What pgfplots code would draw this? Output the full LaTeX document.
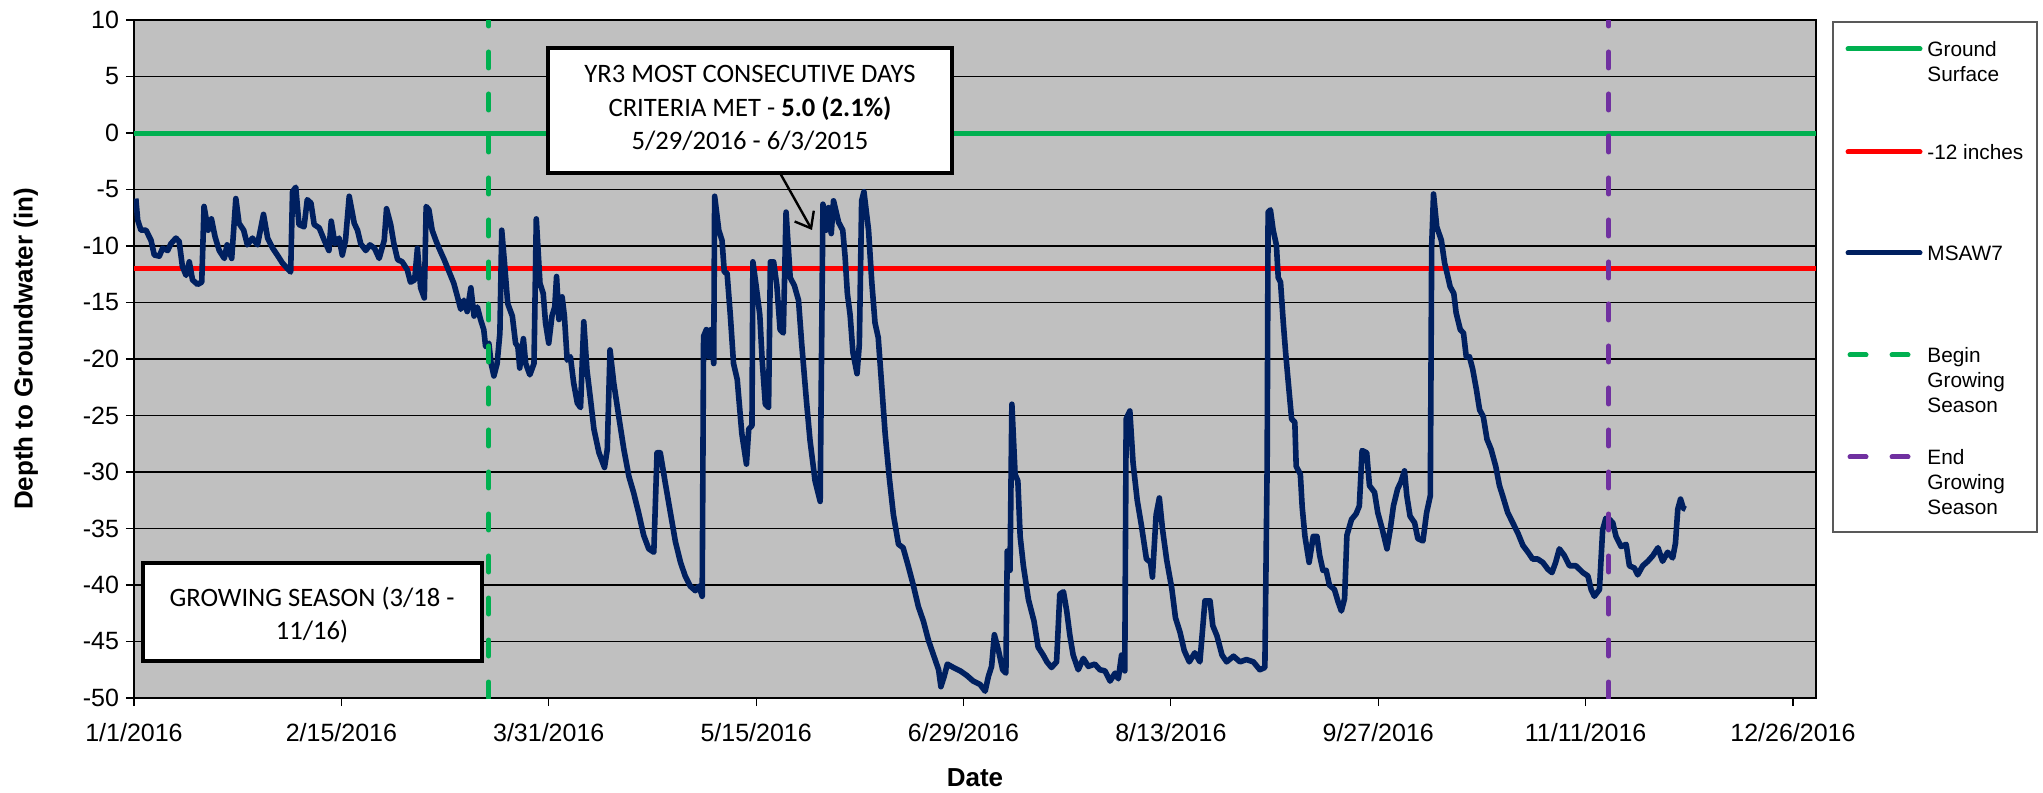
\documentclass[border=0pt]{standalone}
\usepackage{fontspec}
\setmainfont{Liberation Sans}
\newfontfamily\calibri{Carlito}
\usepackage{pgfplots}
\pgfplotsset{compat=1.18}
\usetikzlibrary{arrows.meta}
\definecolor{plotgray}{RGB}{192,192,192}
\definecolor{gsgreen}{RGB}{0,176,80}
\definecolor{wellnavy}{RGB}{0,32,96}
\definecolor{gspurple}{RGB}{112,48,160}
\definecolor{redline}{RGB}{255,0,0}
\tikzset{gsdash/.style={line width=2.5pt, line cap=round, dash pattern=on 8pt off 13pt}}

\begin{document}
\begin{tikzpicture}
\useasboundingbox (-67pt,-47pt) rectangle (954.5pt,349pt);
\begin{axis}[
  at={(0,0)}, anchor=south west,
  scale only axis, width=841pt, height=339pt,
  xmin=0, xmax=365, ymin=-50, ymax=10,
  axis background/.style={fill=plotgray},
  xtick={0,45,...,360},
  xticklabels={1/1/2016,2/15/2016,3/31/2016,5/15/2016,6/29/2016,8/13/2016,9/27/2016,11/11/2016,12/26/2016},
  ytick={-50,-45,...,10},
  yticklabels={-50,-45,-40,-35,-30,-25,-20,-15,-10,-5,0,5,10},
  ymajorgrids, grid style={black, line width=0.6pt},
  tick align=outside, major tick length=4pt, tick pos=left,
  tick style={black, line width=0.6pt},
  axis line style={black, line width=1pt},
  ticklabel style={font=\fontsize{12.5}{14}\selectfont},
  xticklabel style={yshift=-5pt},
  xlabel={Date}, ylabel={Depth to Groundwater (in)},
  label style={font=\fontsize{13}{15}\selectfont\bfseries},
  xlabel style={at={(axis description cs:0.5,-0.118)}, anchor=center},
  ylabel style={at={(axis description cs:-0.0642,0.515)}, anchor=center},
]
% ground surface and -12 inch criterion
\addplot[gsgreen, line width=2.5pt] coordinates {(0,0) (365,0)};
\addplot[redline, line width=2.5pt] coordinates {(0,-12) (365,-12)};
% MSAW7 well (day of year 2016, depth in inches)
\addplot[wellnavy, line width=2.8pt, line join=round] coordinates {
(0.4,-5.8) (0.8,-7.7) (1.5,-8.6) (2.6,-8.6) (3.7,-9.5) (4.4,-10.8) (5.5,-10.9) (6.2,-10.2)
(7.3,-10.4) (8,-9.8) (9.1,-9.3) (9.8,-9.6) (10.5,-11.8) (11.3,-12.6) (12,-11.4) (12.7,-13)
(13.8,-13.4) (14.7,-13.2) (15.2,-6.5) (16.1,-8.6) (16.8,-7.6) (17.6,-9.2) (18.5,-10.4) (19.6,-11.1)
(20.2,-9.9) (21.2,-11.1) (22.1,-5.8) (22.8,-8) (23.8,-8.6) (24.6,-9.9) (25.7,-9.3) (26.8,-9.9)
(28.1,-7.2) (29,-9.3) (30.1,-10.2) (31.1,-10.8) (32.2,-11.5) (33.3,-12) (34,-12.3) (34.4,-5.2)
(35.1,-4.8) (35.8,-8.1) (36.9,-8.3) (37.6,-5.9) (38.4,-6.2) (39.1,-8.1) (40.2,-8.4) (41.3,-9.5)
(42.3,-10.4) (42.8,-7.8) (43.6,-9.8) (44.5,-9.3) (45.2,-10.8) (45.9,-9.5) (46.7,-5.6) (47.8,-8)
(48.5,-8.6) (49.2,-9.8) (50.3,-10.4) (51.2,-9.9) (52.2,-10.2) (53.2,-11.1) (54.3,-9.5) (54.8,-6.7)
(55.7,-8.1) (56.4,-9.8) (57.2,-11.2) (58.2,-11.4) (59.3,-12.1) (60,-13.2) (60.9,-13) (61.5,-10.2)
(62.2,-13.7) (63,-14.6) (63.4,-6.5) (64,-6.8) (64.7,-8.6) (65.5,-9.5) (66.2,-10.2) (67.3,-11.2)
(68.4,-12.3) (69.4,-13.3) (70.2,-14.5) (70.9,-15.6) (71.6,-14.8) (72.3,-15.8) (73.1,-13.7) (73.8,-16.2)
(74.5,-15.4) (75.2,-16.5) (75.9,-17.4) (76.3,-18.9) (77,-18.6) (77.5,-20.4) (78.1,-21.5) (78.8,-20.4)
(79.4,-17.7) (79.8,-8.6) (80.4,-11.5) (81.1,-15.1) (82.1,-16.2) (82.8,-18.6) (83.3,-18.9) (83.7,-20.8)
(84.5,-18.2) (85,-20.4) (85.9,-21.4) (86.8,-20.4) (87.3,-7.6) (88.1,-13.3) (88.8,-14.2) (89.3,-16.8)
(90,-18.6) (90.7,-16.2) (91.3,-15.4) (91.7,-12.7) (92.2,-16.5) (92.9,-14.5) (93.4,-16.2) (94,-20.1)
(94.7,-19.8) (95.4,-22.1) (96.2,-23.9) (96.9,-24.3) (97.6,-16.7) (98.3,-21) (99.1,-23.7) (99.8,-26.2)
(100.9,-28.3) (102.1,-29.6) (102.7,-28) (103.3,-19.2) (104.1,-22.1) (105.2,-25.1) (106.3,-28) (107.4,-30.4)
(108.4,-31.8) (109.5,-33.6) (110.6,-35.6) (111.7,-36.8) (112.8,-37.1) (113.5,-28.3) (114.2,-28.3) (115.3,-31)
(116.4,-33.6) (117.5,-36.2) (118.6,-38) (119.6,-39.2) (120.7,-40.1) (121.8,-40.5) (122.6,-40.1) (123.3,-41)
(123.6,-18) (124.2,-17.4) (124.8,-19.8) (125.2,-17.4) (125.8,-20.4) (126,-5.6) (126.9,-8.6) (127.6,-9.5)
(128.1,-12.3) (128.7,-12.4) (129.4,-16.1) (130.1,-20.4) (130.9,-21.8) (131.9,-26.6) (132.9,-29.3) (133.4,-26.2)
(134.1,-25.9) (134.3,-11.4) (135,-13.5) (135.8,-16.1) (136.3,-20) (137,-24) (137.7,-24.3) (138.1,-11.4)
(138.8,-11.4) (139.5,-13.5) (140.2,-17.4) (140.9,-17.7) (141.5,-7) (142.4,-12.8) (143.3,-13.5) (144.2,-14.8)
(144.9,-18.7) (145.9,-23.6) (146.7,-27.2) (147.8,-30.8) (148.9,-32.6) (149.5,-6.3) (150.2,-8.6) (150.7,-6.6)
(151.3,-8.9) (151.8,-6) (152.9,-7.9) (153.8,-8.6) (154.3,-10.9) (154.8,-14.2) (155.4,-16.1) (156,-19.4)
(156.9,-21.3) (157.4,-18.7) (157.9,-6) (158.4,-5.2) (159.4,-8.6) (160.1,-13.2) (160.8,-16.8) (161.5,-18.1)
(162.3,-22.6) (163,-26.6) (163.9,-30.5) (164.8,-33.8) (165.9,-36.4) (166.9,-36.7) (168,-38.3) (169.1,-40)
(170.2,-41.9) (171.3,-43.2) (172.4,-44.9) (173.5,-46.2) (174.6,-47.5) (175.1,-49) (175.8,-48.1) (176.5,-47)
(177.8,-47.3) (179.3,-47.6) (180.7,-48) (182.1,-48.5) (183.6,-48.8) (184.7,-49.4) (185.4,-48.1) (186.1,-47.2)
(186.7,-44.4) (187.6,-45.8) (188.5,-47.5) (189.2,-47.8) (189.5,-37) (190.1,-38.7) (190.5,-24) (191.2,-30.2)
(191.8,-30.8) (192.3,-35.7) (193,-38.3) (194.1,-41.3) (195.3,-43.2) (196.2,-45.5) (197.3,-46.2) (198.1,-46.8)
(199.1,-47.3) (200.2,-46.8) (200.9,-40.8) (201.7,-40.6) (202.4,-42.3) (203.1,-44.5) (203.8,-46.2) (204.9,-47.5)
(206,-46.5) (207.1,-47.2) (208.5,-47) (209.6,-47.5) (210.7,-47.6) (211.8,-48.5) (212.9,-47.8) (213.6,-48.3)
(214.3,-46.2) (215,-47.6) (215.3,-25.3) (216.1,-24.6) (216.8,-29.2) (217.7,-32.5) (218.6,-34.7) (219.7,-37.7)
(220.6,-38) (221,-39.3) (221.8,-33.8) (222.5,-32.3) (223.2,-35.1) (224.1,-37.8) (225.2,-40.3) (226,-42.9)
(227,-44.2) (227.9,-45.8) (229,-46.8) (230.2,-46) (231.3,-46.8) (232.4,-41.4) (233.5,-41.4) (234.1,-43.6)
(235,-44.5) (236.1,-46.2) (237.1,-46.8) (238.6,-46.3) (240,-46.8) (241.4,-46.6) (242.9,-46.8) (244.3,-47.5)
(245.4,-47.3) (245.9,-29.2) (246.1,-7) (246.6,-6.8) (247.2,-8.6) (247.9,-9.9) (248.3,-12.8) (248.8,-13.2)
(249.4,-16.8) (249.9,-19.4) (250.4,-21.7) (251.2,-25.3) (251.9,-25.6) (252.2,-29.5) (253.1,-30.2) (253.5,-33.1)
(254.1,-35.7) (255,-38) (255.9,-35.7) (256.7,-35.7) (257.3,-37.4) (258,-38.7) (258.7,-38.7) (259.4,-40)
(260.5,-40.4) (261.3,-41.5) (262,-42.3) (262.7,-41.2) (263.2,-35.6) (264.2,-34.2) (265.2,-33.7) (265.9,-33)
(266.5,-28.1) (267.5,-28.3) (268.1,-31.2) (269.2,-31.8) (269.9,-33.6) (270.9,-35.1) (271.9,-36.8) (272.6,-35.1)
(273.3,-33) (274.2,-31.5) (274.9,-30.9) (275.7,-29.9) (276.2,-32.1) (276.9,-33.9) (277.9,-34.5) (278.6,-35.9)
(279.7,-36.1) (280.5,-33.6) (281.3,-32.1) (281.6,-10) (282,-5.4) (282.7,-8.3) (283.7,-9.5) (284.4,-11.5)
(285.1,-12.7) (285.6,-13.6) (286.4,-14.2) (286.9,-15.9) (287.8,-17.4) (288.5,-17.7) (289.1,-19.8) (289.8,-19.8)
(290.5,-20.9) (291.3,-22.7) (292,-24.5) (292.8,-25.1) (293.6,-27.1) (294.5,-28) (295.5,-29.5) (296.3,-31.2)
(297,-32.1) (298.1,-33.6) (299.2,-34.5) (300.3,-35.4) (301.4,-36.5) (302.5,-37.1) (303.5,-37.7) (304.6,-37.7)
(305.7,-38) (306.8,-38.6) (307.7,-38.9) (308.5,-38) (309.3,-36.8) (310.4,-37.4) (311.5,-38.3) (312.9,-38.3)
(314.4,-38.9) (315.5,-39.2) (316.2,-40.4) (316.9,-41) (318,-40.4) (318.7,-35.1) (319.4,-34.1) (320.2,-34.2)
(320.9,-34.5) (321.6,-35.7) (322.7,-36.6) (323.8,-36.4) (324.5,-38.3) (325.6,-38.5) (326.3,-39.1) (327.4,-38.3)
(328.5,-37.9) (329.6,-37.4) (330.7,-36.7) (331.7,-37.9) (332.8,-37.1) (333.9,-37.6) (334.5,-36.3) (335,-33.3)
(335.6,-32.4) (336.2,-33.2) (336.7,-33.3)
};
% growing season limits (3/18 = day 77, 11/16 = day 320)
\addplot[gsgreen, gsdash] coordinates {(77,-50) (77,10)};
\addplot[gspurple, gsdash] coordinates {(320,-50) (320,10)};
\end{axis}

% annotation boxes
\draw[black, line width=1.6pt, fill=white] (207pt,262.5pt) rectangle (409pt,325pt);
\node[align=center, font=\calibri\fontsize{13.3}{16.75}\selectfont] at (308pt,295pt)
  {YR3 MOST CONSECUTIVE DAYS\\CRITERIA MET - \textbf{5.0 (2.1\%)}\\5/29/2016 - 6/3/2015};
\draw[black, line width=1.2pt, -{Straight Barb[length=7pt,width=11pt,line width=1.2pt]}] (323pt,262.5pt) -- (339pt,234pt);
\draw[black, line width=1.6pt, fill=white] (4.5pt,18.5pt) rectangle (174pt,67.5pt);
\node[align=center, font=\calibri\fontsize{13.3}{16.75}\selectfont] at (89pt,41.5pt)
  {GROWING SEASON (3/18 -\\11/16)};

% legend
\draw[gray!70!black, line width=0.6pt, fill=white] (849.5pt,83pt) rectangle (951.5pt,338pt);
\begin{scope}[every node/.style={anchor=base west, inner sep=0pt, font=\fontsize{10.4}{12.6}\selectfont}]
\draw[gsgreen, line width=2.5pt, line cap=round] (857pt,324.5pt) -- (893pt,324.5pt);
\node at (896.5pt,320.8pt) {Ground};
\node at (896.5pt,308.2pt) {Surface};
\draw[redline, line width=2.5pt, line cap=round] (857pt,273pt) -- (893pt,273pt);
\node at (896.5pt,269.3pt) {-12 inches};
\draw[wellnavy, line width=2.5pt, line cap=round] (857pt,222.5pt) -- (893pt,222.5pt);
\node at (896.5pt,218.8pt) {MSAW7};
\draw[gsgreen, gsdash] (858pt,171.5pt) -- (893pt,171.5pt);
\node at (896.5pt,167.8pt) {Begin};
\node at (896.5pt,155.2pt) {Growing};
\node at (896.5pt,142.6pt) {Season};
\draw[gspurple, gsdash] (858pt,120.5pt) -- (893pt,120.5pt);
\node at (896.5pt,116.8pt) {End};
\node at (896.5pt,104.2pt) {Growing};
\node at (896.5pt,91.6pt) {Season};
\end{scope}
\end{tikzpicture}
\end{document}
